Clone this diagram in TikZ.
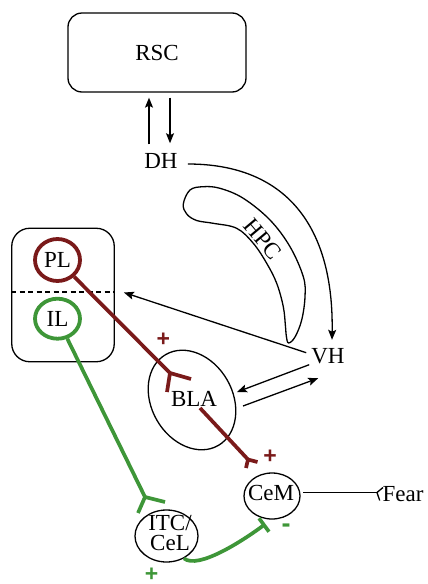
\documentclass[tikz,border=0pt]{standalone}
\usepackage{fontspec}
\setmainfont{Liberation Serif}
\newfontfamily\signfont{Liberation Sans}
\usetikzlibrary{arrows.meta,shapes.geometric,calc}
\definecolor{syred}{RGB}{122,26,26}
\definecolor{sygreen}{RGB}{62,150,56}
\begin{document}
\begin{tikzpicture}[x=1pt,y=-1pt,
  every node/.style={font=\fontsize{23}{20}\selectfont, inner sep=0pt},
  blk/.style={line width=1.3pt, draw=black},
  arr/.style={blk, -{Stealth[length=10pt,width=8pt,inset=2pt]}},
  redln/.style={line width=3.7pt, draw=syred},
  grnln/.style={line width=3.7pt, draw=sygreen},
  region/.style={draw, line width=1.3pt, ellipse, inner sep=0pt},
  roundbox/.style={draw, line width=1.3pt, rectangle, inner sep=0pt},
  sign/.style={font=\signfont\fontsize{23}{23}\selectfont\bfseries},
  ring/.style={ellipse, line width=3.8pt, inner sep=0pt}
]
\useasboundingbox (0,0) rectangle (428,584);

% --- nodes ---
\node[roundbox, rounded corners=14pt, minimum width=178pt, minimum height=79pt] (rsc) at (157,52.5) {RSC};
\node (dh) at (161,161) {DH};
\node (vh) at (328,355.7) {VH};
\node[roundbox, rounded corners=18pt, minimum width=102.5pt, minimum height=133.5pt] (pfc) at (63,295) {};
\node[ring, draw=syred, minimum width=45pt, minimum height=42pt] (pl) at (57.5,260) {PL};
\node[ring, draw=sygreen, minimum width=45pt, minimum height=40pt] (il) at (57.5,318.7) {IL};
\node[region, minimum width=105pt, minimum height=81pt, rotate=-60] (bla) at (192,400) {};
\node (blaT) at (194,399) {BLA};
\node[region, minimum width=56pt, minimum height=46pt] (cem) at (272,496) {};
\node (cemT) at (271,493) {CeM};
\node[region, minimum width=63pt, minimum height=52pt] (itc) at (166.5,536) {};
\node[align=center] (itcT) at (170,533) {ITC/\\CeL};
\node (fear) at (403,493.7) {Fear};
\node[rotate=-50] (hpc) at (263,239) {HPC};

% signs
\node[sign, text=syred] (plus1) at (163.3,340) {+};
\node[sign, text=syred] (plus2) at (270,456.7) {+};
\node[sign, text=sygreen] (plus3) at (151.7,575) {+};
\node[font=\signfont\fontsize{27}{27}\selectfont\bfseries, text=sygreen] (minus) at (286,528.4) {-};

% junction points
\coordinate (j1) at (170,373);
\coordinate (j2) at (248,459.5);
\coordinate (j3) at (145,497);
\coordinate (t1) at (264,525);
\coordinate (jf) at (377,492.5);

% --- HPC shape ---
\draw[blk] plot[smooth cycle, tension=0.6] coordinates {
  (183.3,204) (190,190) (203.3,186.7) (220,188.3) (243.3,198.3) (270,220)
  (290,246.7) (303.3,276.7) (305,296.7) (301.7,320) (295,337) (288.5,343)
  (286.3,336) (285.5,326.7) (283.3,306.7) (276.7,283.3) (266.7,263.3)
  (253.3,243.3) (236.7,228.3) (213.3,223.3) (196.7,220.5) (186.7,214)};

% dashed divider
\draw[blk, dash pattern=on 5pt off 3.5pt] ([yshift=3pt]pfc.west) -- ([yshift=3pt]pfc.east);

% --- black connectors ---
\draw[arr, shorten <=9pt, shorten >=5pt] ([xshift=-12pt]dh.north) -- ([xshift=-8pt]rsc.south);
\draw[arr, shorten <=5pt, shorten >=10pt] ([xshift=13pt]rsc.south) -- ([xshift=9pt]dh.north);
\draw[arr] ([xshift=10pt,yshift=-3pt]dh.east) .. controls (285,164) and (334,225) .. ([xshift=4pt,yshift=8pt]vh.north);
\draw[arr] ([xshift=-5pt,yshift=3pt]vh.west) -- ([xshift=9pt,yshift=2.5pt]pfc.east);
\draw[arr] ([xshift=-2pt,yshift=-9pt]vh.west) -- ([xshift=43pt,yshift=7pt]blaT.center);
\draw[arr] ([xshift=49pt,yshift=-7pt]blaT.center) -- ([xshift=7pt,yshift=-22.5pt]vh.west);
\draw[blk] ([yshift=3.5pt]cem.east) ++(2.5,0) -- (jf);
\draw[blk] ($(jf)+(6,-5)$) -- (jf) -- ($(jf)+(2.7,8)$);

% --- red pathway ---
\draw[redln] (pl) -- (j1);
\draw[redln] ($(j1)+(21,6)$) -- (j1) -- ($(j1)+(-3,19)$);
\draw[redln] ([xshift=6pt,yshift=-9pt]blaT.center) -- (j2);
\draw[redln] ($(j2)+(9.5,2.5)$) -- (j2) -- ($(j2)+(-2,8.5)$);

% --- green pathway ---
\draw[grnln] (il) -- (j3);
\draw[grnln] ($(j3)+(20,5)$) -- (j3) -- ($(j3)+(-7,16)$);
\draw[grnln] (itc.-52) .. controls (198,570) and (244,540) .. (t1);
\draw[grnln] ($(t1)+(-5,-6.7)$) -- ($(t1)+(5,6.7)$);
\end{tikzpicture}
\end{document}
